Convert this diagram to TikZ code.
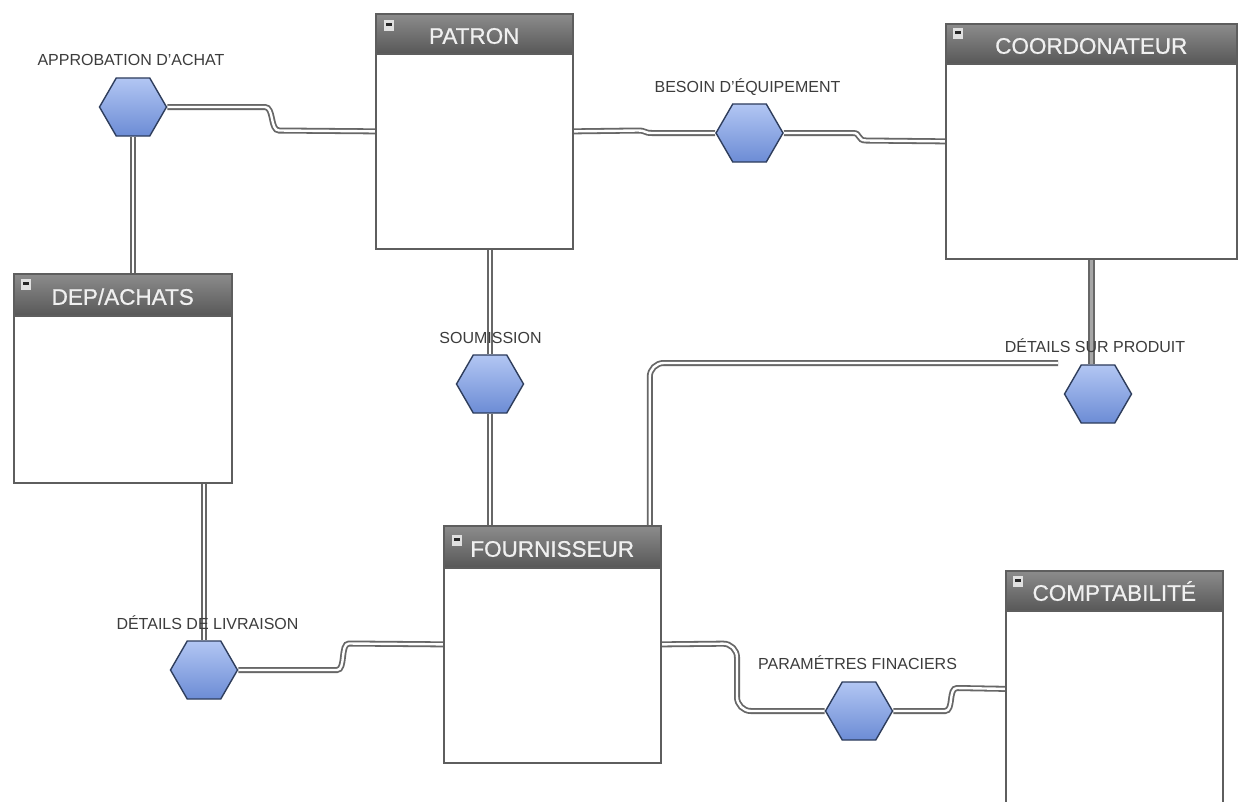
\documentclass[tikz,border=0pt]{standalone}
\usepackage{fontspec}
\setmainfont{Liberation Sans}
\newfontfamily\hdrfont[FakeBold=0.8]{Liberation Sans}
\usetikzlibrary{shapes.geometric,shadings,calc}
\definecolor{hexfillA}{HTML}{B2C6F3}
\definecolor{hexfillB}{HTML}{6C8CD5}
\definecolor{hexline}{HTML}{2E3D5C}
\definecolor{hdrA}{HTML}{8C8C8C}
\definecolor{hdrB}{HTML}{585858}
\definecolor{boxline}{HTML}{5E5E5E}
\definecolor{connline}{HTML}{676767}
\definecolor{lbl}{HTML}{3C3C3C}
\pgfdeclarelayer{bg}
\pgfsetlayers{bg,main}
\tikzset{
  entbox/.style 2 args={draw=boxline, line width=1.7pt, fill=white, anchor=north west,
    inner sep=0pt, minimum width=#1, minimum height=#2},
  hdr/.style 2 args={draw=boxline, line width=1.5pt, anchor=north west, inner sep=0pt,
    minimum width=#1, minimum height=#2, top color=hdrA, bottom color=hdrB,
    text=white!94!black, font=\hdrfont\fontsize{22.5}{24}\selectfont, text height=20pt, text depth=0pt},
  icon/.style={anchor=north west, minimum width=10pt, minimum height=11pt, inner sep=0pt,
    fill=white!88!black,
    path picture={\fill[black!85] ([xshift=2pt,yshift=-3pt]path picture bounding box.north west)
      rectangle ([xshift=-2pt,yshift=-5.8pt]path picture bounding box.north east);}},
  hexa/.style={regular polygon, regular polygon sides=6, minimum size=67pt, inner sep=0pt,
    draw=hexline, line width=1.4pt, top color=hexfillA, bottom color=hexfillB},
  lab/.style={font=\fontsize{16}{18}\selectfont, text=lbl, anchor=base, inner sep=0pt},
  conn/.style={draw=connline, line width=1.8pt, double=white, double distance=2.4pt},
  connB/.style={draw=connline, line width=2pt, double=black!35, double distance=2.4pt},
}
\begin{document}
\begin{tikzpicture}[x=1pt,y=-1pt]
\clip (0,0) rectangle (1238,801);
\begin{pgfonlayer}{bg}
\fill[white] (0,0) rectangle (1238,801);
\end{pgfonlayer}

% entity boxes
\node[entbox={197}{235}] (patron) at (375,13) {};
\node[hdr={197}{40}] (patronH) at (375,13) {PATRON};
\node[icon] (patronI) at (384,20) {};

\node[entbox={291}{235}] (coord) at (945,23) {};
\node[hdr={291}{40}] (coordH) at (945,23) {COORDONATEUR};
\node[icon] (coordI) at (953,28) {};

\node[entbox={218}{209}] (dep) at (13,273) {};
\node[hdr={218}{42}] (depH) at (13,273) {DEP/ACHATS};
\node[icon] (depI) at (21,279) {};

\node[entbox={217}{237}] (fourn) at (443,525) {};
\node[hdr={217}{42}] (fournH) at (443,525) {FOURNISSEUR};
\node[icon] (fournI) at (452,535) {};

\node[entbox={217}{236}] (compt) at (1005,570) {};
\node[hdr={217}{40}] (comptH) at (1005,570) {COMPTABILITÉ};
\node[icon] (comptI) at (1013,576) {};

% hexagons
\node[hexa] (hexA) at (133,107) {};
\node[hexa] (hexB) at (749.5,133) {};
\node[hexa] (hexS) at (490,384) {};
\node[hexa] (hexD) at (1098,394) {};
\node[hexa] (hexL) at (204,670) {};
\node[hexa] (hexP) at (859,711) {};

% labels
\node[lab] (labA) at (131,65) {APPROBATION D'ACHAT};
\node[lab] (labB) at (747.5,92) {BESOIN D'ÉQUIPEMENT};
\node[lab] (labS) at (490.5,343) {SOUMISSION};
\node[lab] (labD) at (1095,352) {DÉTAILS SUR PRODUIT};
\node[lab] (labL) at (207.5,629) {DÉTAILS DE LIVRAISON};
\node[lab] (labP) at (857.5,669) {PARAMÉTRES FINACIERS};

\coordinate (prodEnd) at (1058,363);

\begin{pgfonlayer}{bg}
% approbation
\draw[conn] (hexA.east) -- (265,107) .. controls (274,107) and (270,130.5) .. (279,130.5) -- (patron.west);
\draw[conn] (hexA.south) -- (hexA.south |- depH.north);
% besoin
\draw[conn] (patron.east) -- (638,130.5) .. controls (646,130.5) and (644,133) .. (652,133) -- (hexB.west);
\draw[conn] (hexB.east) -- (853,133) .. controls (861,133) and (857,140.5) .. (866,140.5) -- (coord.west);
% soumission
\draw[conn] (hexS.north |- patron.south) -- (hexS.north);
\draw[conn] (hexS.south) -- (hexS.south |- fournH.north);
% details produit
\draw[connB] (coord.south) -- (coord.south |- hexD.north);
\draw[conn, rounded corners=14pt] ([xshift=97.5pt]fournH.north) -- ([xshift=97.5pt]fournH.north |- prodEnd) -- (prodEnd);
% livraison
\draw[conn] (hexL.north |- dep.south) -- (hexL.north);
\draw[conn] (hexL.east) -- (337,670) .. controls (346,670) and (340,643.5) .. (349,643.5) -- (fourn.west);
% parametres
\draw[conn, rounded corners=14pt] (fourn.east) -- (737,643.5) -- (737,711) -- (hexP.west);
\draw[conn] (hexP.east) -- (945,711) .. controls (954,711) and (948,688) .. (957,688) -- (compt.west);
\end{pgfonlayer}
\end{tikzpicture}
\end{document}
